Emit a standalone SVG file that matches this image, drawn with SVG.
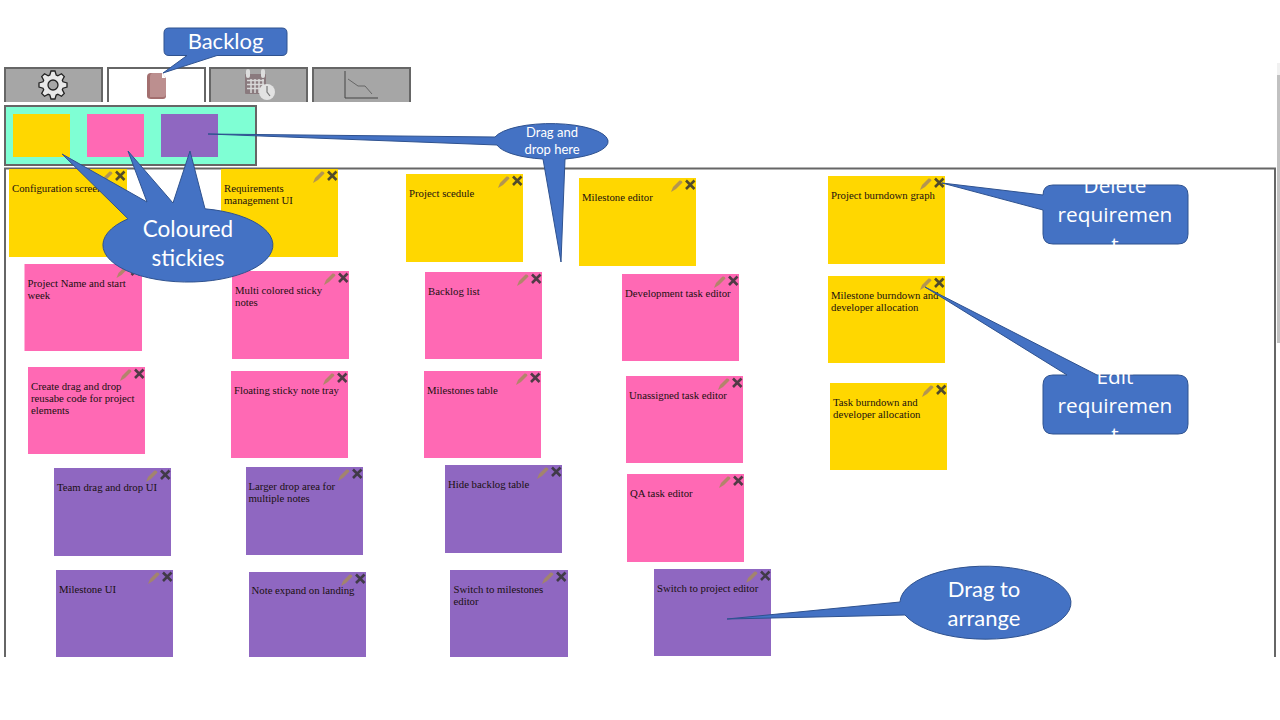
<svg xmlns="http://www.w3.org/2000/svg" width="1280" height="720" viewBox="0 0 1280 720">
<style>
.bg{fill:#fff}
.y{fill:#ffd700}.p{fill:#ff69b4}.v{fill:#8f67c1}
.t{font-family:"Liberation Serif","Times New Roman",serif;font-size:10.75px;fill:#1a1010}
.c{fill:#4472c4;stroke:#2f528f;stroke-width:1}
.l{font-family:Lato,"Open Sans",sans-serif;fill:#fff;text-anchor:middle}
.r{font-family:"Open Sans","Noto Sans",sans-serif;fill:#fff;text-anchor:middle;font-size:20.8px}
.tab{fill:#a6a6a6}
.edge{fill:none;stroke:#666;stroke-width:2}
.pen{fill:#a68a5e;opacity:.85}
.del{stroke:#333;stroke-width:2.6;fill:none;opacity:.85}
</style>
<defs>
<g id="tools"><path class="pen" d="M92,14L94,9L100.500,2.500Q103,2 103.500,4.500L97,11Z"/><path class="del" d="M107,2.500L115.500,11M115.500,2.500L107,11"/></g>
</defs>
<rect class="bg" width="1280" height="720"/>
<g id="scrollbar"><rect x="1277" y="63" width="3" height="12" fill="#f1f1f1"/><rect x="1277" y="75" width="3" height="268" fill="#c1c1c1"/></g>
<g id="tabs">
<g id="tab-settings"><rect class="tab" x="4" y="67" width="99" height="35"/><path class="edge" d="M5,102V68H102V102"/>
<polygon transform="translate(53,85)" fill="#e8e8e8" stroke="#222" stroke-width="1.300" points="-3.200,-10 -2,-14 2,-14 3.200,-10 4.800,-9.300 8.500,-11.300 11.300,-8.500 9.300,-4.800 10,-3.200 14,-2 14,2 10,3.200 9.300,4.800 11.300,8.500 8.500,11.300 4.800,9.300 3.200,10 2,14 -2,14 -3.200,10 -4.800,9.300 -8.500,11.300 -11.300,8.500 -9.300,4.800 -10,3.200 -14,2 -14,-2 -10,-3.200 -9.300,-4.800 -11.300,-8.500 -8.500,-11.300 -4.800,-9.300"/>
<circle cx="53" cy="85" r="5" fill="#a6a6a6" stroke="#222" stroke-width="1.300"/></g>
<g id="tab-backlog"><rect x="107" y="67" width="99" height="35" fill="#fff"/><path class="edge" d="M108,102V68H205V102"/>
<path d="M151,73H161L166,78V96Q166,99 163,99H151Q147,99 147,96V77Q147,73 151,73Z" fill="#a36f6f"/>
<path d="M153,73H162L166,78V94Q166,97 163,97H150V77Q150,73 153,73Z" fill="#bc8f8f"/><path d="M162,73V78H166Z" fill="#fff"/></g>
<g id="tab-calendar"><rect class="tab" x="209" y="67" width="99" height="35"/><path class="edge" d="M210,102V68H307V102"/>
<rect x="245" y="74" width="21" height="20" rx="1" fill="#8a7a7e"/>
<path d="M247,80.500H264M247,84.500H264M247,88.500H264M251,79V93M255,79V93M259,79V93M263,79V93" stroke="#d9d9d9" stroke-width="1.500" fill="none"/>
<rect x="246" y="69" width="4" height="9" rx="2" fill="#ddd"/><rect x="261" y="69" width="4" height="9" rx="2" fill="#ddd"/>
<circle cx="267" cy="92" r="8" fill="#e2e2e2"/><path d="M267,86V92L270,96" stroke="#777" stroke-width="1.200" fill="none"/></g>
<g id="tab-graph"><rect class="tab" x="312" y="67" width="99" height="35"/><path class="edge" d="M313,102V68H410V102"/>
<path d="M345,71V98H378" stroke="#444" stroke-width="1" fill="none"/><path d="M348,79L358,86H365L372,94" stroke="#666" stroke-width="1" fill="none"/></g>
</g>
<g id="tray"><rect x="5" y="106" width="251" height="59" fill="#7fffd4" stroke="#666" stroke-width="2"/>
<rect class="y" x="13" y="114" width="57" height="43"/><rect class="p" x="87" y="114" width="57" height="43"/><rect class="v" x="161" y="114" width="57" height="43"/></g>
<path id="board" class="edge" d="M5,657V168.500H1275V657"/>
<g id="stickies">
<g id="s1" transform="translate(9,169)"><rect class="y" width="118" height="88"/><use href="#tools"/><text class="t" x="3" y="23">Configuration screen</text></g>
<g id="s2" transform="translate(221,169)"><rect class="y" width="117" height="88"/><use href="#tools"/><text class="t" x="3" y="23">Requirements</text><text class="t" x="3" y="35">management UI</text></g>
<g id="s3" transform="translate(406,174)"><rect class="y" width="117" height="88"/><use href="#tools"/><text class="t" x="3" y="23">Project scedule</text></g>
<g id="s4" transform="translate(579,178)"><rect class="y" width="117" height="88"/><use href="#tools"/><text class="t" x="3" y="23">Milestone editor</text></g>
<g id="s5" transform="translate(828,176)"><rect class="y" width="117" height="88"/><use href="#tools"/><text class="t" x="3" y="23">Project burndown graph</text></g>
<g id="s6" transform="translate(828,276)"><rect class="y" width="117" height="87"/><use href="#tools"/><text class="t" x="3" y="23">Milestone burndown and</text><text class="t" x="3" y="35">developer allocation</text></g>
<g id="s7" transform="translate(830,383)"><rect class="y" width="117" height="87"/><use href="#tools"/><text class="t" x="3" y="23">Task burndown and</text><text class="t" x="3" y="35">developer allocation</text></g>
<g id="s8" transform="translate(24.500,264)"><rect class="p" width="117.500" height="87"/><use href="#tools"/><text class="t" x="3" y="23">Project Name and start</text><text class="t" x="3" y="35">week</text></g>
<g id="s9" transform="translate(232,271)"><rect class="p" width="117" height="88"/><use href="#tools"/><text class="t" x="3" y="23">Multi colored sticky</text><text class="t" x="3" y="35">notes</text></g>
<g id="s10" transform="translate(28,367)"><rect class="p" width="117" height="87"/><use href="#tools"/><text class="t" x="3" y="23">Create drag and drop</text><text class="t" x="3" y="35">reusabe code for project</text><text class="t" x="3" y="47">elements</text></g>
<g id="s11" transform="translate(231,371)"><rect class="p" width="117" height="87"/><use href="#tools"/><text class="t" x="3" y="23">Floating sticky note tray</text></g>
<g id="s12" transform="translate(425,272)"><rect class="p" width="117" height="87"/><use href="#tools"/><text class="t" x="3" y="23">Backlog list</text></g>
<g id="s13" transform="translate(424,371)"><rect class="p" width="117" height="87"/><use href="#tools"/><text class="t" x="3" y="23">Milestones table</text></g>
<g id="s14" transform="translate(622,274)"><rect class="p" width="117" height="87"/><use href="#tools"/><text class="t" x="3" y="23">Development task editor</text></g>
<g id="s15" transform="translate(626,376)"><rect class="p" width="117" height="87"/><use href="#tools"/><text class="t" x="3" y="23">Unassigned task editor</text></g>
<g id="s16" transform="translate(627,474)"><rect class="p" width="117" height="88"/><use href="#tools"/><text class="t" x="3" y="23">QA task editor</text></g>
<g id="s17" transform="translate(54,468)"><rect class="v" width="117" height="88"/><use href="#tools"/><text class="t" x="3" y="23">Team drag and drop UI</text></g>
<g id="s18" transform="translate(246,467)"><rect class="v" width="117" height="88"/><use href="#tools"/><text class="t" x="2.500" y="23">Larger drop area for</text><text class="t" x="2.500" y="35">multiple notes</text></g>
<g id="s19" transform="translate(445,465)"><rect class="v" width="117" height="88"/><use href="#tools"/><text class="t" x="3" y="23">Hide backlog table</text></g>
<g id="s20" transform="translate(56,570)"><rect class="v" width="117" height="87"/><use href="#tools"/><text class="t" x="3" y="23">Milestone UI</text></g>
<g id="s21" transform="translate(249,572)"><rect class="v" width="117" height="85"/><use href="#tools"/><text class="t" x="2.500" y="22">Note expand on landing</text></g>
<g id="s22" transform="translate(450,570)"><rect class="v" width="118" height="87"/><use href="#tools"/><text class="t" x="3.500" y="23">Switch to milestones</text><text class="t" x="3.500" y="35">editor</text></g>
<g id="s23" transform="translate(654,569)"><rect class="v" width="117" height="87"/><use href="#tools"/><text class="t" x="3" y="23">Switch to project editor</text></g>
</g>
<g id="callouts">
<g id="c-backlog"><path class="c" d="M169,28H282Q287,28 287,33V50.500Q287,55.500 282,55.500H217L163,73L187,55.500H169Q164,55.500 164,50.500V33Q164,28 169,28Z"/><text class="l" x="225.500" y="49" font-size="22">Backlog</text></g>
<g id="c-stickies"><path class="c" d="M128,218.800L62,154L147,202L128,151L173,203L190,151L205,208.800A85,37 0 1 1 128,218.800Z"/><text class="l" font-size="22.500" x="188" y="237">Coloured</text><text class="l" font-size="22.500" x="188" y="266">stickies</text></g>
<g id="c-drop"><path class="c" d="M495,137L208,134L497,145A57.500,18 0 0 0 543,159L561,262L565,159A57.500,18 0 1 0 495,137Z"/><text class="l" font-size="13" x="552" y="137">Drag and</text><text class="l" font-size="13" x="552" y="154">drop here</text></g>
<g id="c-delete"><path class="c" d="M1053,185H1178Q1188,185 1188,195V234Q1188,244 1178,244H1053Q1043,244 1043,234V210L942,183L1043,195Q1043,185 1053,185Z"/><text class="r" x="1115" y="193">Delete</text><text class="r" x="1115" y="222">requiremen</text><text class="r" x="1115" y="252">t</text></g>
<g id="c-edit"><path class="c" d="M1053,375H1067L925,287L1097,375H1178Q1188,375 1188,385V424Q1188,434 1178,434H1053Q1043,434 1043,424V385Q1043,375 1053,375Z"/><text class="r" x="1115" y="384">Edit</text><text class="r" x="1115" y="413">requiremen</text><text class="r" x="1115" y="442">t</text></g>
<g id="c-arrange"><path class="c" d="M900,602L727,619L905,615A85.500,36.500 0 1 0 900,602Z"/><text class="l" font-size="22" x="984" y="597">Drag to</text><text class="l" font-size="22" x="984" y="626">arrange</text></g>
</g>
</svg>
